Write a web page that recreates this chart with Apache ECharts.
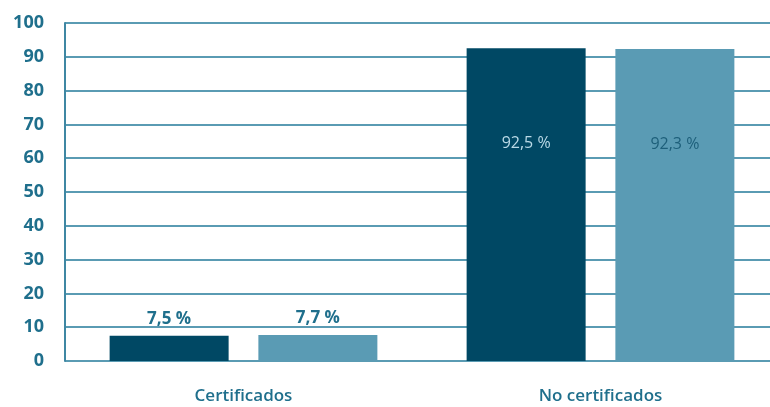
<!DOCTYPE html>
<html>
<head>
<meta charset="utf-8">
<script src="https://cdn.jsdelivr.net/npm/echarts@6/dist/echarts.min.js"></script>
<style>
html,body{margin:0;padding:0;background:#fff;overflow:hidden;}
#chart{width:790px;height:407px;}
</style>
</head>
<body>
<div id="chart"></div>
<script>
// Categories and values
const categories = ['Certificados', 'No certificados'];
const seriesA = [7.5, 92.5];
const seriesB = [7.7, 92.3];
const yTicks = [0, 10, 20, 30, 40, 50, 60, 70, 80, 90, 100];

const fmt = v => String(v).replace('.', ',') + ' %';
const font = '"Open Sans", "Noto Sans", sans-serif';

function labelFor(value, isLight) {
  const inside = value > 50;
  return {
    show: true,
    position: inside ? 'insideTop' : 'top',
    distance: inside ? 87 : 8,
    formatter: p => fmt(p.value),
    fontFamily: font,
    fontSize: inside ? 16 : 17,
    fontWeight: inside ? 'normal' : 'bold',
    color: inside ? (isLight ? '#1d5f7a' : '#b9d9e6') : '#1f6f8c'
  };
}

const chart = echarts.init(document.getElementById('chart'));
chart.setOption({
  animation: false,
  grid: { left: 65, top: 23, width: 714, height: 338, containLabel: false },
  xAxis: {
    type: 'category',
    data: categories,
    axisLine: { show: false },
    axisTick: { show: false },
    axisLabel: { color: '#1f6f8c', fontFamily: font, fontSize: 17, fontWeight: 600, margin: 27 }
  },
  yAxis: {
    type: 'value',
    min: yTicks[0],
    max: yTicks[yTicks.length - 1],
    interval: yTicks[1] - yTicks[0],
    axisLine: { show: true, lineStyle: { color: '#3f87a3', width: 2 } },
    axisTick: { show: false },
    axisLabel: { color: '#1f6f8c', fontFamily: font, fontSize: 18, fontWeight: 'bold', margin: 21 },
    splitLine: { lineStyle: { color: '#5a9bb3', width: 2 } }
  },
  series: [
    {
      type: 'bar',
      data: seriesA.map(v => ({ value: v, label: labelFor(v, false) })),
      barWidth: 119,
      barGap: '25%',
      itemStyle: { color: '#004864' }
    },
    {
      type: 'bar',
      data: seriesB.map(v => ({ value: v, label: labelFor(v, true) })),
      barWidth: 119,
      itemStyle: { color: '#5a9bb4' }
    }
  ]
});
</script>
</body>
</html>
